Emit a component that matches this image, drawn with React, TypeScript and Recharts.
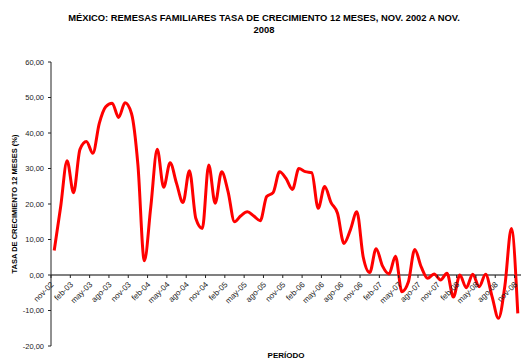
import React from 'react';
import { LineChart, Line, XAxis, YAxis, ReferenceLine } from 'recharts';

const MONTHS = [
  'nov-02', 'dic-02', 'ene-03', 'feb-03', 'mar-03', 'abr-03', 'may-03', 'jun-03', 'jul-03', 'ago-03', 'sep-03', 'oct-03',
  'nov-03', 'dic-03', 'ene-04', 'feb-04', 'mar-04', 'abr-04', 'may-04', 'jun-04', 'jul-04', 'ago-04', 'sep-04', 'oct-04',
  'nov-04', 'dic-04', 'ene-05', 'feb-05', 'mar-05', 'abr-05', 'may-05', 'jun-05', 'jul-05', 'ago-05', 'sep-05', 'oct-05',
  'nov-05', 'dic-05', 'ene-06', 'feb-06', 'mar-06', 'abr-06', 'may-06', 'jun-06', 'jul-06', 'ago-06', 'sep-06', 'oct-06',
  'nov-06', 'dic-06', 'ene-07', 'feb-07', 'mar-07', 'abr-07', 'may-07', 'jun-07', 'jul-07', 'ago-07', 'sep-07', 'oct-07',
  'nov-07', 'dic-07', 'ene-08', 'feb-08', 'mar-08', 'abr-08', 'may-08', 'jun-08', 'jul-08', 'ago-08', 'sep-08', 'oct-08',
  'nov-08',
];

// tasa de crecimiento anual (%)
const GROWTH = [
  6.9, 19.2, 32.2, 23.2, 35.4, 37.6, 34.3, 42.7, 47.4, 48.4, 44.4, 48.5,
  45.5, 31.0, 4.0, 19.2, 35.4, 24.7, 31.6, 25.8, 20.4, 29.4, 15.9, 13.1,
  31.0, 20.2, 29.1, 23.5, 15.0, 16.7, 17.8, 16.6, 15.3, 22.1, 23.2, 29.1,
  27.2, 24.1, 30.0, 29.1, 28.8, 18.8, 24.9, 20.4, 17.4, 8.9, 12.7, 17.8,
  5.0, 0.7, 7.4, 2.5, 0.3, 5.3, -4.7, -2.0, 7.2, 2.3, -0.9, 0.3,
  -1.4, 0.5, -6.2, 0.0, -3.6, 0.2, -3.3, 0.2, -6.0, -12.2, -3.0, 13.1,
  -10.8,
];

const Y_TICKS = [-20, -10, 0, 10, 20, 30, 40, 50, 60];

const TITLE_LINES = ['MÉXICO: REMESAS FAMILIARES TASA DE CRECIMIENTO 12 MESES, NOV. 2002 A NOV.', '2008'];
const Y_TITLE = 'TASA DE CRECIMIENTO 12 MESES (%)';
const X_TITLE = 'PERÍODO';

const data = MONTHS.map((month, i) => ({ month, growth: GROWTH[i] }));

const W = 521;
const H = 361;
const TOP = 62;
const Y_AXIS_W = 51;
const X_AXIS_H = 15;
const FONT = '"Liberation Sans", Arial, sans-serif';

const plotH = H - TOP - X_AXIS_H;
const ZERO_Y = TOP + (plotH * Y_TICKS[Y_TICKS.length - 1]) / (Y_TICKS[Y_TICKS.length - 1] - Y_TICKS[0]);
const HALF_BAND = (W - Y_AXIS_W) / MONTHS.length / 2;

const MonthTick = (props: any) => {
  const { x, payload } = props;
  const ty = ZERO_Y + 10;
  return (
    <g>
      <line x1={x - HALF_BAND} x2={x - HALF_BAND} y1={ZERO_Y} y2={ZERO_Y + 3} stroke="#222" />
      <text
        x={x}
        y={ty}
        textAnchor="end"
        transform={`rotate(-45 ${x} ${ty})`}
        fontSize={8}
        fill="#222"
        fontFamily={FONT}
      >
        {payload.value}
      </text>
    </g>
  );
};

export default function App() {
  return (
    <div style={{ position: 'absolute', left: 0, top: 0, width: W, height: H, background: '#fff', fontFamily: FONT }}>
      <div
        style={{
          position: 'absolute',
          left: 0,
          top: 12,
          width: 528,
          textAlign: 'center',
          fontSize: 9.4,
          fontWeight: 'bold',
          lineHeight: '12px',
          color: '#000',
        }}
      >
        {TITLE_LINES[0]}
        <br />
        {TITLE_LINES[1]}
      </div>
      <div
        style={{
          position: 'absolute',
          left: 14,
          top: 204,
          transform: 'translate(-50%, -50%) rotate(-90deg)',
          whiteSpace: 'nowrap',
          fontSize: 7.5,
          fontWeight: 'bold',
          color: '#000',
        }}
      >
        {Y_TITLE}
      </div>
      <div
        style={{
          position: 'absolute',
          left: 286,
          top: 351,
          transform: 'translateX(-50%)',
          whiteSpace: 'nowrap',
          fontSize: 8,
          lineHeight: '9px',
          fontWeight: 'bold',
          color: '#000',
        }}
      >
        {X_TITLE}
      </div>
      <LineChart width={W} height={H} data={data} margin={{ top: TOP, right: 0, bottom: 0, left: 0 }}>
        <XAxis
          dataKey="month"
          interval={2}
          axisLine={false}
          tickLine={false}
          height={X_AXIS_H}
          padding={{ left: HALF_BAND, right: HALF_BAND }}
          tick={<MonthTick />}
        />
        <YAxis
          domain={[Y_TICKS[0], Y_TICKS[Y_TICKS.length - 1]]}
          ticks={Y_TICKS}
          width={Y_AXIS_W}
          axisLine={{ stroke: '#222' }}
          tickLine={{ stroke: '#222' }}
          tickSize={3}
          tickMargin={4}
          tick={{ fontSize: 7.5, fill: '#222', fontFamily: FONT }}
          tickFormatter={(v: number) => v.toFixed(2).replace('.', ',')}
          interval={0}
        />
        <ReferenceLine y={0} stroke="#808080" strokeWidth={2} />
        <Line
          type="monotone"
          dataKey="growth"
          stroke="#FF0000"
          strokeWidth={3}
          dot={false}
          isAnimationActive={false}
        />
      </LineChart>
    </div>
  );
}
